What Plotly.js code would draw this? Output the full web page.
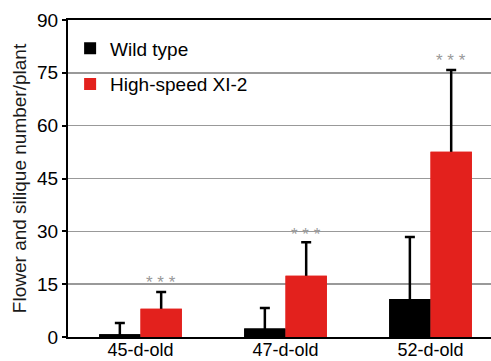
<!DOCTYPE html>
<html><head><meta charset="utf-8">
<script src="https://cdn.plot.ly/plotly-3.0.1.min.js"></script>
<style>html,body{margin:0;padding:0;background:#fff}</style>
</head><body>
<div id="chart" style="width:491px;height:361px"></div>
<script>
const categories = ["45-d-old", "47-d-old", "52-d-old"];
const wildType = [0.8, 2.4, 10.8];
const wildTypeErr = [3.2, 5.8, 17.6];
const highSpeed = [8.0, 17.4, 52.6];
const highSpeedErr = [4.8, 9.5, 23.2];
const sigLabels = ["* * *", "* * *", "* * *"];
const sigY = [15.6, 29.2, 78.4];

const errStyle = (err, vals) => ({type: "data", symmetric: false, array: err, arrayminus: vals,
  color: "#000", thickness: 2.5, width: 5});

const traces = [
  // carriers of the error bars (drawn first so the real bars cover the lower half)
  {type: "bar", x: categories, y: wildType, offsetgroup: "wt", showlegend: false,
   marker: {color: "#000000"}, error_y: errStyle(wildTypeErr, wildType)},
  {type: "bar", x: categories, y: highSpeed, offsetgroup: "hs", showlegend: false,
   marker: {color: "#e3211d"}, error_y: errStyle(highSpeedErr, highSpeed)},
  {type: "bar", name: "Wild type", x: categories, y: wildType, offsetgroup: "wt",
   marker: {color: "#000000"}, legendgroup: "a"},
  {type: "bar", name: "High-speed XI-2", x: categories, y: highSpeed, offsetgroup: "hs",
   marker: {color: "#e3211d"}, legendgroup: "b"}
];

const annotations = categories.map((c, i) => ({
  x: i + 0.142, y: sigY[i], xref: "x", yref: "y", text: sigLabels[i], showarrow: false,
  font: {family: "Liberation Sans, Arial", size: 17, color: "#999"}
}));

const layout = {
  width: 491, height: 361,
  margin: {l: 68, r: 0, t: 20, b: 24},
  paper_bgcolor: "#fff", plot_bgcolor: "#fff",
  barmode: "group", bargap: 0.43, bargroupgap: 0,
  font: {family: "Liberation Sans, Arial", size: 18, color: "#000"},
  xaxis: {type: "category", range: [-0.5, 2.417], showline: true, linecolor: "#000", linewidth: 2,
          mirror: true, ticks: "", showgrid: false, tickfont: {size: 18}, ticklabelstandoff: -5},
  yaxis: {range: [0, 90], tickvals: [0, 15, 30, 45, 60, 75, 90], showline: true, linecolor: "#000", linewidth: 2,
          ticks: "outside", ticklen: 4, tickwidth: 2, tickcolor: "#000",
          showgrid: true, gridcolor: "#999", gridwidth: 1.5, zeroline: false,
          tickfont: {size: 19},
          title: {text: "Flower and silique number/plant", font: {size: 19, color: "#1a1a1a"}, standoff: 5}},
  legend: {x: 0.005, y: 0.97, xanchor: "left", yanchor: "top", bgcolor: "rgba(0,0,0,0)",
           font: {size: 19}, tracegroupgap: 8},
  annotations: annotations,
  showlegend: true
};

Plotly.newPlot("chart", traces, layout, {displayModeBar: false, staticPlot: true});
</script>
</body></html>
